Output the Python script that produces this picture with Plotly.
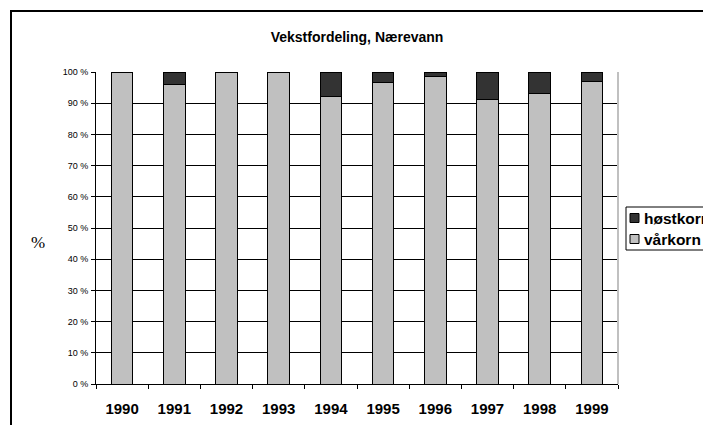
import plotly.graph_objects as go

years = ["1990", "1991", "1992", "1993", "1994", "1995", "1996", "1997", "1998", "1999"]
varkorn = [100, 96.1, 100, 100, 92.0, 96.7, 98.6, 91.1, 93.2, 96.9]
hostkorn = [0, 3.9, 0, 0, 8.0, 3.3, 1.4, 8.9, 6.8, 3.1]
y_ticks = [0, 10, 20, 30, 40, 50, 60, 70, 80, 90, 100]
y_tick_labels = [f"{v} %" for v in y_ticks]
series_names = ["høstkorn", "vårkorn"]
series_colors = {"høstkorn": "#333333", "vårkorn": "#c0c0c0"}

OFF = 8  # page body margin
W, H = 711 - OFF, 425 - OFF
L, T = 96 - OFF, 72 - OFF
RIGHT, BOTTOM = 618 - OFF, 384 - OFF
R, B = W - RIGHT, H - BOTTOM
pw, ph = RIGHT - L, BOTTOM - T

def px(x):  # reference screen x -> paper
    return (x - OFF - L) / pw

def py(y):  # reference screen y -> paper
    return (BOTTOM - (y - OFF)) / ph

fig = go.Figure()
fig.add_trace(go.Bar(x=years, y=varkorn, name="vårkorn", showlegend=False,
                     marker=dict(color=series_colors["vårkorn"], line=dict(color="#000000", width=1))))
fig.add_trace(go.Bar(x=years, y=hostkorn, name="høstkorn", showlegend=False,
                     marker=dict(color=series_colors["høstkorn"], line=dict(color="#000000", width=1))))

fig.update_layout(
    width=W, height=H,
    barmode="stack", bargap=0.586,
    margin=dict(l=L, r=R, t=T, b=B, autoexpand=False),
    paper_bgcolor="white", plot_bgcolor="white",
    font=dict(family="Liberation Sans, Arial", color="#000000"),
    showlegend=False,
    xaxis=dict(type="category", showline=True, linecolor="#000000", linewidth=1,
               ticks="outside", ticklen=4, tickcolor="#000000", tickson="boundaries",
               tickfont=dict(size=15, weight="bold"), showgrid=False, ticklabelstandoff=11,
               fixedrange=True),
    yaxis=dict(range=[0, 100], tickvals=y_ticks, ticktext=y_tick_labels,
               showline=True, linecolor="#000000", linewidth=1,
               ticks="outside", ticklen=4, tickcolor="#000000",
               tickfont=dict(size=9), showgrid=True, gridcolor="#000000", gridwidth=1,
               zeroline=False, ticklabelstandoff=1, fixedrange=True),
    title=dict(text="<b>Vekstfordeling, Nærevann</b>", x=0.5, xref="paper",
               y=1 - (37 - OFF) / H, yanchor="middle", font=dict(size=14)),
)

# plot area right border (grey)
fig.add_shape(type="line", xref="paper", yref="paper", x0=1, x1=1, y0=0, y1=1,
              line=dict(color="#c0c0c0", width=2))
# outer chart frame (top and left edges)
fig.add_shape(type="line", xref="paper", yref="paper", x0=px(10), x1=px(730), y0=py(11), y1=py(11),
              line=dict(color="#000000", width=2))
fig.add_shape(type="line", xref="paper", yref="paper", x0=px(11), x1=px(11), y0=py(11), y1=py(440),
              line=dict(color="#000000", width=2))

fig.add_annotation(text="%", xref="paper", yref="paper", x=px(38), y=py(242),
                   xanchor="center", yanchor="middle",
                   showarrow=False, font=dict(family="Liberation Serif, Times New Roman", size=17))

# legend box
fig.add_shape(type="rect", xref="paper", yref="paper", x0=px(626), x1=px(760), y0=py(207), y1=py(250),
              line=dict(color="#000000", width=1), fillcolor="white")
row_y = [218, 239]
for name, ry in zip(series_names, row_y):
    fig.add_shape(type="rect", xref="paper", yref="paper", x0=px(630), x1=px(639),
                  y0=py(ry - 4.5), y1=py(ry + 4.5),
                  line=dict(color="#000000", width=1), fillcolor=series_colors[name])
    fig.add_annotation(text=f"<b>{name}</b>", xref="paper", yref="paper", x=px(642), y=py(ry),
                       xanchor="left", yanchor="middle", showarrow=False,
                       font=dict(size=15.5, family="Liberation Sans, Arial"))

fig.write_html("out.html")
